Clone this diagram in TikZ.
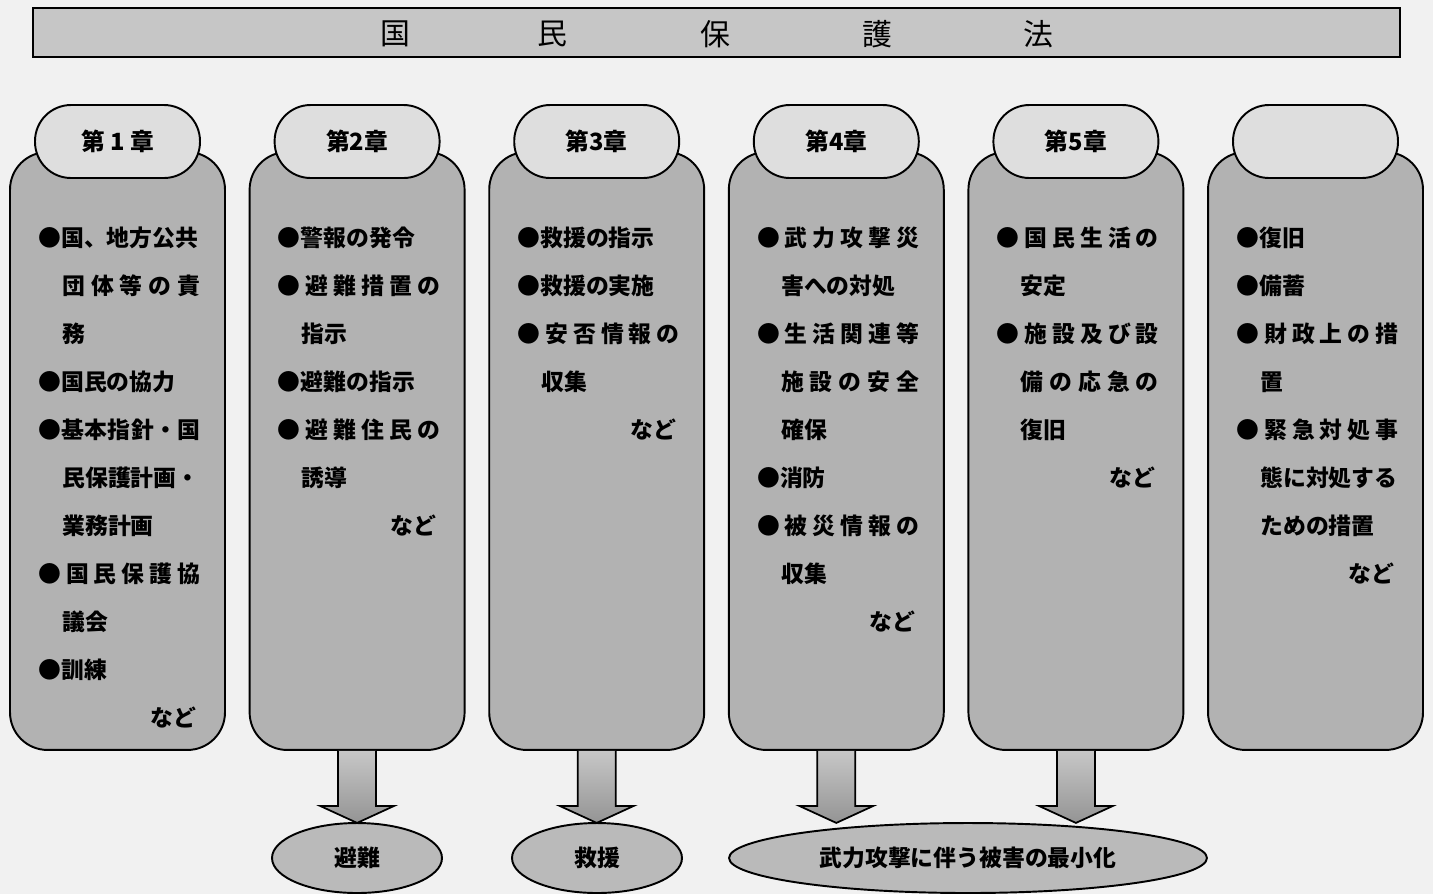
\documentclass[tikz,border=0pt]{standalone}
\usepackage{fontspec}
\setmainfont{Noto Sans CJK JP}
\usetikzlibrary{shapes.geometric}
\definecolor{bgc}{HTML}{F1F1F1}
\definecolor{boxc}{HTML}{B2B2B2}
\definecolor{pillc}{HTML}{DEDEDE}
\definecolor{titlec}{HTML}{C6C6C6}
\definecolor{ellc}{HTML}{BABABA}
\newcommand\bodyf{\bfseries\fontsize{13pt}{13pt}\selectfont}
\newcommand\headf{\bfseries\fontsize{13.5pt}{13.5pt}\selectfont}
\newcommand\goalf{\bfseries\fontsize{13pt}{13pt}\selectfont}
\newcommand\titlef{\fontsize{17pt}{17pt}\selectfont}
\newcommand\fullb[1]{\makebox[3.24cm][l]{#1}}
\newcommand\fulli[1]{\makebox[2.76cm][l]{#1}}
\tikzset{
  colbox/.style={draw=black, line width=1.1pt, fill=boxc, rounded corners=0.75cm,
    minimum width=4.3cm, minimum height=11.96cm, inner sep=0pt},
  pill/.style={draw=black, line width=1.1pt, fill=pillc, rounded corners=0.72cm,
    minimum width=3.3cm, minimum height=1.46cm, inner sep=0pt, font=\headf},
  ln/.style={anchor=west, inner sep=0pt, font=\bodyf},
  nd/.style={anchor=east, inner sep=0pt, font=\bodyf},
  blockarrow/.style={draw=black, line width=1pt, top color=black!22, bottom color=black!42},
  goal/.style={ellipse, draw=black, line width=1.1pt, fill=ellc, minimum height=1.4cm,
    inner sep=0pt, font=\goalf},
  titlebar/.style={draw=black, line width=1.3pt, fill=titlec, minimum width=27.34cm,
    minimum height=0.98cm, inner sep=0pt},
  tch/.style={inner sep=0pt, font=\titlef}
}
\begin{document}
\begin{tikzpicture}[x=0.02cm, y=-0.02cm]
\fill[bgc] (0,0) rectangle (1433,894);
\useasboundingbox (0,0) rectangle (1433,894);

% title
\node[titlebar] (title) at (716.5,32.5) {};
\node[tch] (t1) at (395,34) {国};
\node[tch] (t2) at (552,34) {民};
\node[tch] (t3) at (715,34) {保};
\node[tch] (t4) at (877,34) {護};
\node[tch] (t5) at (1038,34) {法};

% column 1
\begin{scope}[shift={(10,0)}]
\node[colbox] (b1) at (107.5,451) {};
\node[pill] (h1) at (107.5,141.5) {第 1 章};
\node[ln] (c1a) at (28,238) {●国、地方公共};
\node[ln] (c1b) at (52,286) {\fulli{団\hfill 体\hfill 等\hfill の\hfill 責}};
\node[ln] (c1c) at (52,334) {務};
\node[ln] (c1d) at (28,382) {●国民の協力};
\node[ln] (c1e) at (28,430) {\fullb{●\hfill 基\hfill 本\hfill 指\hfill 針\hfill ・\hfill 国}};
\node[ln] (c1f) at (52,478) {民保護計画・};
\node[ln] (c1g) at (52,526) {業務計画};
\node[ln] (c1h) at (28,574) {\fullb{●\hfill 国\hfill 民\hfill 保\hfill 護\hfill 協}};
\node[ln] (c1i) at (52,622) {議会};
\node[ln] (c1j) at (28,670) {●訓練};
\node[nd] (c1k) at (187,718) {など};
\end{scope}

% column 2
\begin{scope}[shift={(249.6,0)}]
\node[colbox] (b2) at (107.5,451) {};
\node[pill] (h2) at (107.5,141.5) {第2章};
\node[ln] (c2a) at (28,238) {●警報の発令};
\node[ln] (c2b) at (28,286) {\fullb{●\hfill 避\hfill 難\hfill 措\hfill 置\hfill の}};
\node[ln] (c2c) at (52,334) {指示};
\node[ln] (c2d) at (28,382) {●避難の指示};
\node[ln] (c2e) at (28,430) {\fullb{●\hfill 避\hfill 難\hfill 住\hfill 民\hfill の}};
\node[ln] (c2f) at (52,478) {誘導};
\node[nd] (c2g) at (187,526) {など};
\end{scope}

% column 3
\begin{scope}[shift={(489.2,0)}]
\node[colbox] (b3) at (107.5,451) {};
\node[pill] (h3) at (107.5,141.5) {第3章};
\node[ln] (c3a) at (28,238) {●救援の指示};
\node[ln] (c3b) at (28,286) {●救援の実施};
\node[ln] (c3c) at (28,334) {\fullb{●\hfill 安\hfill 否\hfill 情\hfill 報\hfill の}};
\node[ln] (c3d) at (52,382) {収集};
\node[nd] (c3e) at (187,430) {など};
\end{scope}

% column 4
\begin{scope}[shift={(728.8,0)}]
\node[colbox] (b4) at (107.5,451) {};
\node[pill] (h4) at (107.5,141.5) {第4章};
\node[ln] (c4a) at (28,238) {\fullb{●\hfill 武\hfill 力\hfill 攻\hfill 撃\hfill 災}};
\node[ln] (c4b) at (52,286) {害への対処};
\node[ln] (c4c) at (28,334) {\fullb{●\hfill 生\hfill 活\hfill 関\hfill 連\hfill 等}};
\node[ln] (c4d) at (52,382) {\fulli{施\hfill 設\hfill の\hfill 安\hfill 全}};
\node[ln] (c4e) at (52,430) {確保};
\node[ln] (c4f) at (28,478) {●消防};
\node[ln] (c4g) at (28,526) {\fullb{●\hfill 被\hfill 災\hfill 情\hfill 報\hfill の}};
\node[ln] (c4h) at (52,574) {収集};
\node[nd] (c4i) at (187,622) {など};
\end{scope}

% column 5
\begin{scope}[shift={(968.4,0)}]
\node[colbox] (b5) at (107.5,451) {};
\node[pill] (h5) at (107.5,141.5) {第5章};
\node[ln] (c5a) at (28,238) {\fullb{●\hfill 国\hfill 民\hfill 生\hfill 活\hfill の}};
\node[ln] (c5b) at (52,286) {安定};
\node[ln] (c5c) at (28,334) {\fullb{●\hfill 施\hfill 設\hfill 及\hfill び\hfill 設}};
\node[ln] (c5d) at (52,382) {\fulli{備\hfill の\hfill 応\hfill 急\hfill の}};
\node[ln] (c5e) at (52,430) {復旧};
\node[nd] (c5f) at (187,478) {など};
\end{scope}

% column 6
\begin{scope}[shift={(1208,0)}]
\node[colbox] (b6) at (107.5,451) {};
\node[pill] (h6) at (107.5,141.5) {};
\node[ln] (c6a) at (28,238) {●復旧};
\node[ln] (c6b) at (28,286) {●備蓄};
\node[ln] (c6c) at (28,334) {\fullb{●\hfill 財\hfill 政\hfill 上\hfill の\hfill 措}};
\node[ln] (c6d) at (52,382) {置};
\node[ln] (c6e) at (28,430) {\fullb{●\hfill 緊\hfill 急\hfill 対\hfill 処\hfill 事}};
\node[ln] (c6f) at (52,478) {態に対処する};
\node[ln] (c6g) at (52,526) {ための措置};
\node[nd] (c6h) at (187,574) {など};
\end{scope}

% goals
\node[goal, minimum width=3.4cm] (g1) at (357,858) {避難};
\node[goal, minimum width=3.4cm] (g2) at (597,858) {救援};
\node[goal, minimum width=9.56cm] (g3) at (968,858) {武力攻撃に伴う被害の最小化};

% block arrows
\foreach \b in {b2,b3,b4,b5}{
  \draw[blockarrow] ([xshift=-0.38cm]\b.south) -- ++(0,55) -- ++(-18,0) -- ++(37,17)
    -- ++(37,-17) -- ++(-18,0) -- ++(0,-55);
}
\end{tikzpicture}
\end{document}
